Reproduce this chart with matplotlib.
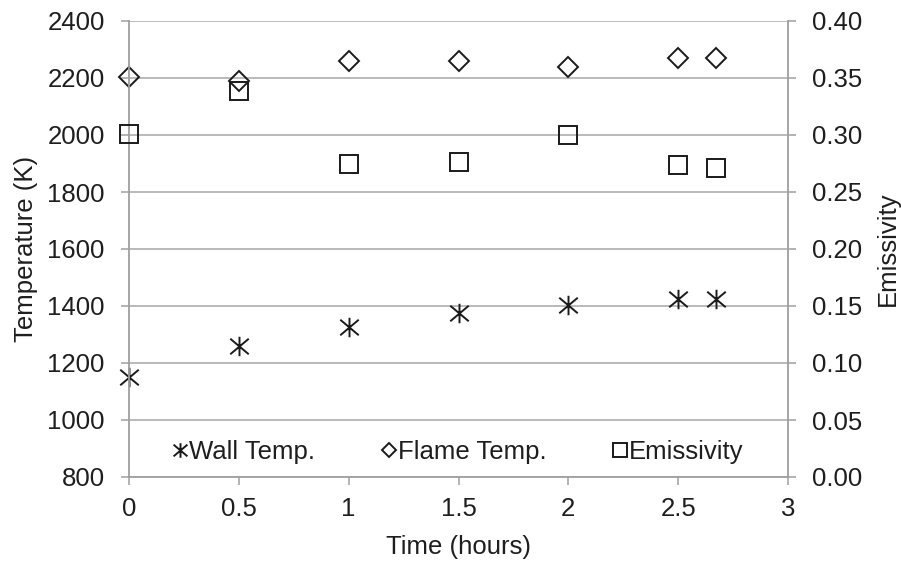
import numpy as np
import matplotlib
matplotlib.use("Agg")
import matplotlib.pyplot as plt
from matplotlib.path import Path
from matplotlib.ticker import FormatStrFormatter, MultipleLocator

# values
time_h = [0, 0.5, 1, 1.5, 2, 2.5, 2.67]
wall_temp = [1152, 1260, 1328, 1374, 1404, 1425, 1425]
flame_temp = [2204, 2190, 2259, 2261, 2237, 2269, 2269]
emissivity = [0.301, 0.339, 0.275, 0.2765, 0.300, 0.2735, 0.271]

TXT = "#1e1e1e"
AXC = "#9f9f9f"
GRID = "#b4b4b4"
MK = "#1a1a1a"
FS = 18.5

# excel style asterisk: vertical bar plus an X
star = Path([(0, -1), (0, 1), (-0.95, -0.8), (0.95, 0.8), (-0.95, 0.8), (0.95, -0.8)],
            [Path.MOVETO, Path.LINETO, Path.MOVETO, Path.LINETO, Path.MOVETO, Path.LINETO])

plt.rcParams["font.family"] = ["Liberation Sans", "DejaVu Sans"]
plt.rcParams["text.color"] = TXT
plt.rcParams["axes.labelcolor"] = TXT
plt.rcParams["xtick.color"] = AXC
plt.rcParams["ytick.color"] = AXC
plt.rcParams["xtick.labelcolor"] = TXT
plt.rcParams["ytick.labelcolor"] = TXT

fig = plt.figure(figsize=(9.01, 5.64), dpi=100)
ax = fig.add_axes([129 / 901, 1 - 477 / 564, 659 / 901, 456 / 564])
ax2 = ax.twinx()

ax.set_xlim(0, 3)
ax.set_ylim(800, 2400)
ax2.set_ylim(0, 0.4)
ax.xaxis.set_major_locator(MultipleLocator(0.5))
ax.yaxis.set_major_locator(MultipleLocator(200))
ax2.yaxis.set_major_locator(MultipleLocator(0.05))
ax2.yaxis.set_major_formatter(FormatStrFormatter("%.2f"))
ax.xaxis.set_major_formatter(plt.FuncFormatter(lambda v, p: "%g" % v))

ax.grid(axis="y", color=GRID, linewidth=1.3)
ax.set_axisbelow(True)
for a in (ax, ax2):
    for s in a.spines.values():
        s.set_color(AXC)
        s.set_linewidth(1.3)
    a.spines["top"].set_visible(False)
ax.spines["right"].set_visible(False)
ax2.spines["left"].set_visible(False)
ax2.spines["bottom"].set_visible(False)

ax.tick_params(axis="y", direction="out", length=5.5, width=1.1, pad=12, labelsize=FS)
ax.tick_params(axis="x", direction="out", length=5.5, width=1.1, pad=9, labelsize=FS)
ax2.tick_params(axis="y", direction="out", length=5.5, width=1.1, pad=12, labelsize=FS)

h1, = ax.plot(time_h, wall_temp, linestyle="none", marker=star, ms=14,
              mew=1.4, color=MK, clip_on=False, label="Wall Temp.")
h2, = ax.plot(time_h, flame_temp, linestyle="none", marker="D", ms=10,
              mew=1.4, mec=MK, mfc="none", clip_on=False, label="Flame Temp.")
h3, = ax2.plot(time_h, emissivity, linestyle="none", marker="s", ms=13.5,
               mew=1.4, mec=MK, mfc="none", clip_on=False, label="Emissivity")

ax.set_xlabel("Time (hours)", fontsize=FS)
ax.set_ylabel("Temperature (K)", fontsize=FS)
ax2.set_ylabel("Emissivity", fontsize=FS)
ax.xaxis.set_label_coords(0.5, (477 - 547) / 456)
ax.xaxis.label.set_va("center")
ax.yaxis.set_label_coords((26 - 129) / 659, 0.5)
ax.yaxis.label.set_va("center")
ax2.yaxis.set_label_coords((888 - 129) / 659, 0.5)
ax2.yaxis.label.set_va("center")

ax2.legend(handles=[h1, h2, h3], loc="center", bbox_to_anchor=(0.5, (477 - 452) / 456),
           ncol=3, frameon=False, fontsize=FS, markerscale=0.75, handlelength=0.5,
           handletextpad=0.1, columnspacing=2.6, borderpad=0)

fig.savefig("out.png", dpi=100)
